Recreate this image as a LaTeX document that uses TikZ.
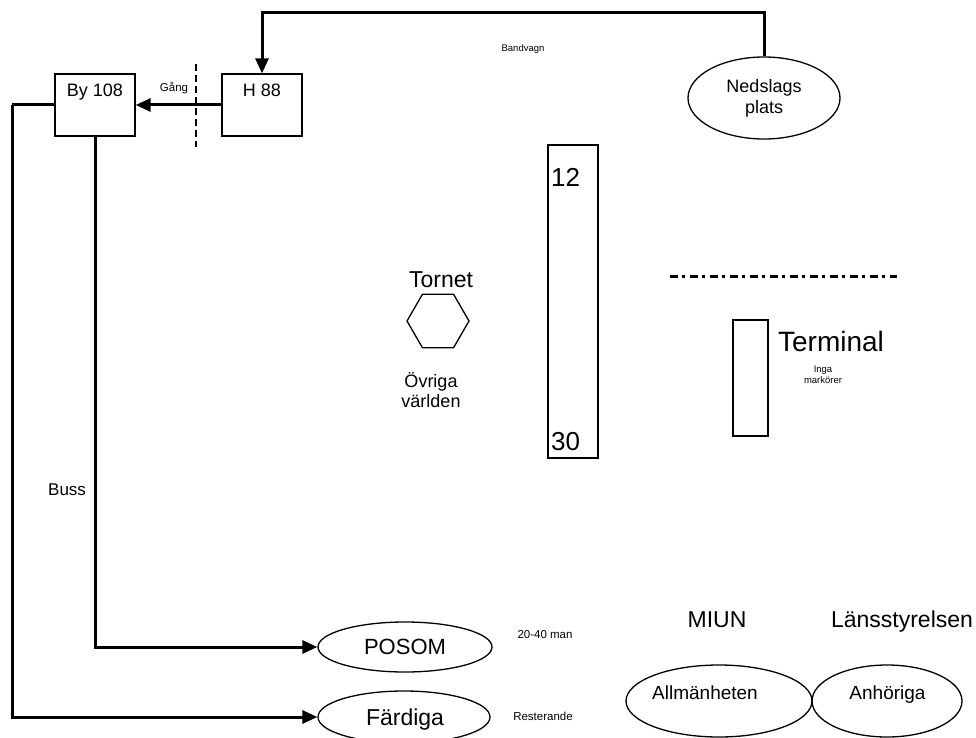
\documentclass[tikz,border=0pt]{standalone}
\usepackage{fontspec}
\setmainfont{Liberation Sans}
\usetikzlibrary{shapes.geometric,arrows.meta}
\newcommand{\fs}[1]{\fontsize{#1}{\dimexpr #1pt*115/100\relax}\selectfont}
\tikzset{
  box/.style={draw,line width=1.3pt,inner sep=0pt},
  ell/.style={draw,ellipse,line width=1.3pt,inner sep=0pt},
  conn/.style={line width=3pt,-{Triangle[length=15pt,width=13pt]}},
  plain/.style={line width=3pt},
  txt/.style={inner sep=0pt,anchor=base}
}
\begin{document}
\begin{tikzpicture}[x=1pt,y=-1pt]
\useasboundingbox (0,0) rectangle (976,738);
\clip (0,0) rectangle (976,738);
% boxes
\node[box,minimum width=80pt,minimum height=62pt] (by) at (95,105) {};
\node[txt,font=\fs{18}] (bylab) at (95,97) {By 108};
\node[box,minimum width=80pt,minimum height=62pt] (h88) at (262,105) {};
\node[txt,font=\fs{18}] (h88lab) at (262,97) {H 88};
% dashed barrier
\coordinate (d1) at (196,64);
\coordinate (d2) at (196,147);
\draw[line width=2.5pt,dash pattern=on 7pt off 4pt] (d1) -- (d2);
\node[txt,font=\fs{11.5}] (gang) at (174,92) {Gång};
% Nedslags plats
\node[ell,minimum width=152pt,minimum height=82pt] (ned) at (764,98) {};
\node[txt,font=\fs{18}] (nedlab1) at (764,93) {Nedslags};
\node[txt,font=\fs{18}] (nedlab2) at (764,114) {plats};
\node[txt,font=\fs{9.5}] (band) at (523,52) {Bandvagn};
\coordinate (top) at (0,13);
\draw[conn] (ned.north) -- (ned.north |- top) -| (h88.north);
\draw[conn] (h88.west) -- (by.east);
% runway
\node[box,minimum width=50pt,minimum height=313pt] (rw) at (573,301.5) {};
\node[txt,font=\fs{26},anchor=base west] (r12) at (551,186) {12};
\node[txt,font=\fs{26},anchor=base west] (r30) at (551,450) {30};
% tower
\node[txt,font=\fs{23}] (tornet) at (441,287) {Tornet};
\node[draw,regular polygon,regular polygon sides=6,minimum size=62pt,inner sep=0pt,line width=1.3pt] (hex) at (438,321) {};
\node[txt,font=\fs{18}] (ovr1) at (431,387) {Övriga};
\node[txt,font=\fs{18}] (ovr2) at (431,407) {världen};
% dash-dot line
\coordinate (dd1) at (670,276);
\coordinate (dd2) at (897,276);
\draw[line width=3pt,dash pattern=on 8pt off 4pt on 3pt off 5pt] (dd1) -- (dd2);
% terminal
\node[box,minimum width=35pt,minimum height=116pt] (term) at (750.5,378) {};
\node[txt,font=\fs{28}] (termlab) at (831,351) {Terminal};
\node[txt,font=\fs{9.5}] (inga1) at (823,372) {Inga};
\node[txt,font=\fs{9.5}] (inga2) at (823,383) {markörer};
% bus lines
\node[txt,font=\fs{17},anchor=base west] (buss) at (48,495) {Buss};
\node[ell,minimum width=174pt,minimum height=50pt] (posom) at (405,647) {};
\node[txt,font=\fs{22}] (posomlab) at (405,654) {POSOM};
\node[ell,minimum width=172pt,minimum height=52pt] (fard) at (404,717) {};
\node[txt,font=\fs{23}] (fardlab) at (405,725) {Färdiga};
\coordinate (leftx) at (12,0);
\draw[plain] (by.west) -- (by.west -| leftx);
\draw[conn] (by.west -| leftx) |- (fard.west);
\draw[conn] (by.south) |- (posom.west);
\node[txt,font=\fs{11.5}] (man) at (545,638.5) {20-40 man};
\node[txt,font=\fs{11.5}] (rest) at (543,720.5) {Resterande};
% MIUN etc
\node[txt,font=\fs{23}] (miun) at (717,627) {MIUN};
\node[txt,font=\fs{23}] (lans) at (902,627) {Länsstyrelsen};
\node[ell,minimum width=186pt,minimum height=72pt] (allm) at (719,701) {};
\node[txt,font=\fs{19}] (allmlab) at (705,699) {Allmänheten};
\node[ell,minimum width=150pt,minimum height=72pt] (anh) at (887,701) {};
\node[txt,font=\fs{19}] (anhlab) at (887.5,699) {Anhöriga};
\end{tikzpicture}
\end{document}
